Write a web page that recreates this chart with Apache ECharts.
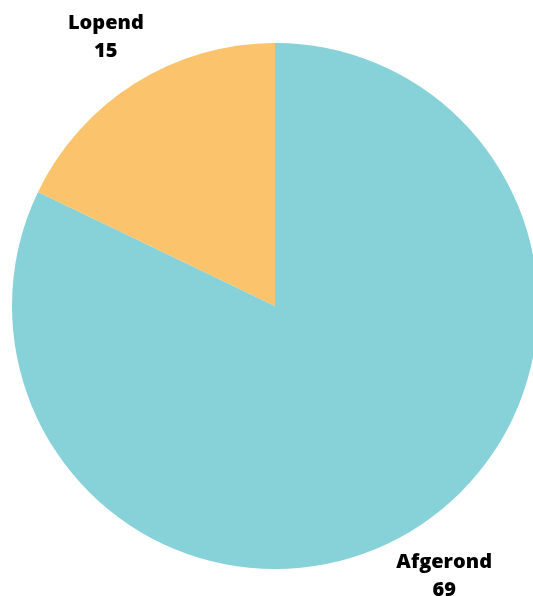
<!DOCTYPE html>
<html><head><meta charset="utf-8">
<script src="https://cdn.jsdelivr.net/npm/echarts@6/dist/echarts.min.js"></script>
<style>html,body{margin:0;padding:0;background:#fff}#c{width:533px;height:596px}</style>
</head><body><div id="c"></div>
<script>
const categories = ['Afgerond', 'Lopend'];
const values = [69, 15];
const colors = ['#87D1D8', '#FBC36B'];

const chart = echarts.init(document.getElementById('c'), null, {renderer: 'canvas'});
chart.setOption({
  animation: false,
  series: [{
    type: 'pie',
    center: [275, 306],
    radius: 263,
    startAngle: 90,
    clockwise: true,
    avoidLabelOverlap: false,
    data: categories.map((n, i) => ({name: n, value: values[i], itemStyle: {color: colors[i]}})),
    label: {
      show: true,
      position: 'outside',
      formatter: '{b}\n{c}',
      fontFamily: 'Open Sans',
      fontWeight: 800,
      fontSize: 20,
      lineHeight: 28,
      color: '#000',
      distanceToLabelLine: 0,
      align: 'center'
    },
    labelLine: {show: false, length: 55, length2: 0},
    labelLayout: function (p) {
      const r = p.labelRect;
      return {
        x: p.align === 'right' ? r.x + r.width : (p.align === 'left' ? r.x : r.x + r.width / 2),
        y: r.y + r.height / 2 + 1,
        align: 'center',
        verticalAlign: 'middle'
      };
    }
  }]
});
</script>
</body></html>
